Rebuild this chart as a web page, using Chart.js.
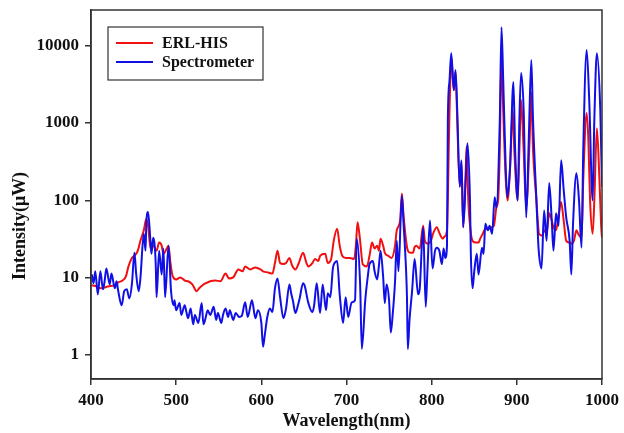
<!DOCTYPE html>
<html><head><meta charset="utf-8">
<script src="https://cdn.jsdelivr.net/npm/chart.js@4/dist/chart.umd.min.js"></script>
<style>html,body{margin:0;padding:0;background:#fff;}canvas{display:block;}</style>
</head><body>
<canvas id="c" width="624" height="433"></canvas>
<script>
const seriesNames = ['ERL-HIS', 'Spectrometer'];
const xTitle = 'Wavelength(nm)';
const yTitle = 'Intensity(\u03bcW)';
const xTicks = [400, 500, 600, 700, 800, 900, 1000];
const yTicks = [1, 10, 100, 1000, 10000];

const erlWavelength = [401,405,412,418,423,428,432,437,441,444,448,451,455,458,462,465,467,470,473,477,480,483,485,489,491,493,496,500,505,510,514,519,524,527,531,535,540,546,552,558,562,567,573,578,581,587,593,599,602,608,613,616,619,622,626,629,633,636,640,644,649,653,655,660,663,667,669,675,678,682,685,689,692,695,699,704,709,711,713,716,719,724,727,730,733,736,738,740,743,745,749,753,757,759,763,765,767,770,772,775,778,780,782,786,790,792,795,799,802,806,809,813,815,818,819,820,821,823,826,828,830,833,835,837,840,841,843,846,848,852,855,857,860,863,867,870,873,876,878,880,882,884,887,889,892,895,897,901,903,905,908,911,915,917,919,923,925,926,930,932,935,938,941,943,946,949,952,955,958,962,964,967,970,972,976,978,982,984,986,989,991,994,997,999,1000];
const erlIntensity = [8.0,7.8,7.3,7.6,7.8,8.0,8.7,9.2,10.4,14,18,19.2,22.4,30,41,58,47,23.8,26,22.4,28.5,26,20.4,23.8,26,16.5,10.4,9.5,10.1,9.2,9.0,8.2,6.7,7.3,8.0,8.5,9.0,9.2,9.0,11.3,9.8,10.1,12.8,12.1,14,12.8,13.6,12.8,12.1,11.7,11.3,15.5,22.4,15.5,15,15.5,18,14.5,12.8,15.5,21,15.5,14,15.5,17.5,16.5,19.2,20.4,15.5,17.5,30,43,26,19.2,18,18,17.5,26,52,30,15,14,19.2,28.5,23.8,26,22.4,32,26,21,19.2,18,26,41,55,123,64,30,22.4,21,21,25,26,23.8,47,30,27.6,30,38,45,38,32,34,41,100,450,1480,7100,2670,4600,1100,150,315,45,250,500,100,38,30,28.5,28.5,32,37,43,43,45,47,81,100,450,8300,1480,185,100,250,1480,450,100,450,1990,450,81,605,2500,450,100,47,37,35,41,38,68,55,45,41,64,95,55,30,28.5,27.6,30,41,37,33,185,1350,605,100,37,100,860,185,47,33];

const specWavelength = [401,403,405,408,411,414,416,418,422,424,428,430,432,436,439,442,445,448,451,453,456,458,462,464,465,467,470,471,473,476,477,480,483,485,487,491,494,497,498,500,504,506,510,512,514,517,520,522,526,530,532,534,537,540,544,547,549,553,555,558,561,563,567,570,574,577,581,584,589,593,596,600,602,604,607,610,613,616,619,622,626,629,633,635,637,640,643,645,649,651,655,660,662,665,669,672,676,678,681,684,686,689,692,696,699,702,706,710,712,716,718,722,725,727,731,733,736,738,740,743,745,747,750,752,754,757,759,761,765,767,770,771,772,774,777,780,784,786,790,793,795,798,801,804,806,809,812,814,816,818,819,821,823,826,828,830,833,835,837,840,842,845,846,848,850,853,855,859,861,863,866,868,871,874,876,880,882,884,887,889,892,896,898,901,903,905,908,911,914,917,919,923,925,926,929,932,935,938,941,943,946,949,952,955,958,962,964,966,970,973,976,978,982,985,989,991,994,998,1000];
const specIntensity = [11,8.5,12.1,6.1,12.1,7.1,9.0,13.2,8.2,11.3,7.3,9.0,6.7,4.4,6.7,7.1,5.4,8.2,21,11.3,6.7,9.8,37,22.4,52,71,27.6,20.4,33,15,5.6,22.4,11,23.8,5.6,26,6.7,4.4,5.1,3.8,4.7,3.3,4.4,3.6,3.0,4.0,2.5,3.3,2.6,4.7,2.5,2.85,3.8,3.3,4.2,2.85,3.5,2.6,3.3,4.0,3.1,3.8,2.85,3.5,3.1,3.2,4.8,3.1,5.1,3.0,3.8,2.6,1.28,1.8,3.1,4.0,3.6,7.3,9.8,5.6,3.0,4.0,8.2,6.3,5.1,3.5,4.4,5.4,8.5,7.8,4.8,3.6,4.4,8.5,3.5,8.2,3.8,6.3,5.6,13.2,15.5,16.5,6.1,2.6,5.6,3.1,4.8,5.1,32,8.2,1.2,5.1,10.4,15,16.5,12.1,9.5,14,22.4,10.4,4.7,8.2,5.1,1.95,3.1,9.0,30,12.1,116,50,12.1,5.6,1.2,2.85,6.7,17.5,6.1,7.3,45,4.2,12.1,55,13.2,22.4,24.5,22.4,15,23.8,18,26,1100,3600,8000,2670,4850,1480,150,330,45,185,550,100,20.4,7.3,12.1,20.4,11,24.5,20.4,50,41,47,37,110,81,1100,17400,3600,250,110,270,3400,450,100,1100,4430,1480,60,605,6530,1100,100,30,20.4,13.2,74,30,168,55,22.4,68,47,330,138,60,30,11,50,225,100,24.5,450,8800,1990,100,1100,8000,1480,150];

const seriesColors = ['#f01010', '#1010e6'];
const FONT = '"Liberation Serif", "Times New Roman", serif';
const INK = '#111';

function toPoints(xs, ys) { return xs.map((x, i) => ({ x: x, y: ys[i] })); }

const decorPlugin = {
  id: 'decor',
  afterDraw(chart) {
    const ctx = chart.ctx, a = chart.chartArea;
    ctx.save();
    ctx.strokeStyle = '#333';
    ctx.lineWidth = 1.5;
    ctx.strokeRect(a.left, a.top, a.right - a.left, a.bottom - a.top);
    ctx.fillStyle = INK;
    ctx.font = 'bold 18px ' + FONT;
    ctx.textAlign = 'center';
    ctx.textBaseline = 'middle';
    ctx.fillText(xTitle, (a.left + a.right) / 2, 421);
    ctx.save();
    ctx.translate(20, 226);
    ctx.rotate(-Math.PI / 2);
    ctx.fillText(yTitle, 0, 0);
    ctx.restore();
    const lx = a.left + 17, ly = a.top + 17, lw = 155, lh = 53;
    ctx.fillStyle = '#fff';
    ctx.fillRect(lx, ly, lw, lh);
    ctx.strokeStyle = '#333';
    ctx.lineWidth = 1.2;
    ctx.strokeRect(lx, ly, lw, lh);
    ctx.font = 'bold 16px ' + FONT;
    ctx.textAlign = 'left';
    seriesNames.forEach((name, i) => {
      const yy = ly + 16 + i * 19;
      ctx.strokeStyle = seriesColors[i];
      ctx.lineWidth = 2;
      ctx.beginPath();
      ctx.moveTo(lx + 8, yy);
      ctx.lineTo(lx + 45, yy);
      ctx.stroke();
      ctx.fillStyle = INK;
      ctx.fillText(name, lx + 54, yy + 1);
    });
    ctx.restore();
  }
};

new Chart(document.getElementById('c'), {
  type: 'line',
  data: {
    datasets: [
      { label: seriesNames[0], data: toPoints(erlWavelength, erlIntensity), borderColor: seriesColors[0], borderWidth: 2, pointRadius: 0, cubicInterpolationMode: 'monotone', order: 1 },
      { label: seriesNames[1], data: toPoints(specWavelength, specIntensity), borderColor: seriesColors[1], borderWidth: 2, pointRadius: 0, cubicInterpolationMode: 'monotone', order: 0 }
    ]
  },
  options: {
    responsive: false,
    devicePixelRatio: 1,
    animation: false,
    layout: { padding: { top: 10, right: 21, left: 0, bottom: 0 } },
    plugins: { legend: { display: false }, tooltip: { enabled: false } },
    scales: {
      x: {
        type: 'linear', min: 400, max: 1000,
        afterBuildTicks: s => { s.ticks = xTicks.map(v => ({ value: v })); },
        afterFit: s => { s.height = 54; },
        ticks: { autoSkip: false, maxRotation: 0, padding: 5, color: INK, font: { family: FONT, size: 17, weight: 'bold' }, callback: v => String(v) },
        grid: { drawOnChartArea: false, drawTicks: true, tickLength: 6, color: '#333', lineWidth: 1.5 },
        border: { display: true, color: '#333', width: 1.5 }
      },
      y: {
        type: 'logarithmic', min: 0.49, max: 29000,
        afterBuildTicks: s => { s.ticks = yTicks.map(v => ({ value: v })); },
        afterFit: s => { s.width = 91; s.paddingTop = 0; s.paddingBottom = 0; },
        ticks: { autoSkip: false, padding: 6, color: INK, font: { family: FONT, size: 17, weight: 'bold' }, callback: v => String(v) },
        grid: { drawOnChartArea: false, drawTicks: true, tickLength: 6, color: '#333', lineWidth: 1.5 },
        border: { display: true, color: '#333', width: 1.5 }
      }
    }
  },
  plugins: [decorPlugin]
});
</script>
</body></html>
